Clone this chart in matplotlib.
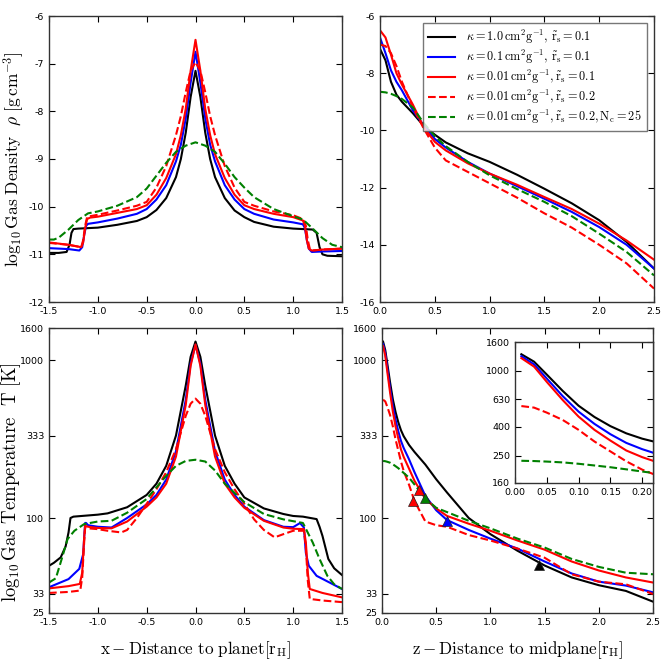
import numpy as np
import matplotlib
matplotlib.use("Agg")
import matplotlib.pyplot as plt
from matplotlib.ticker import FixedLocator, NullLocator

plt.rcParams.update({
    "font.family": "DejaVu Sans", "font.size": 6.5,
    "mathtext.fontset": "cm",
    "axes.unicode_minus": False,
    "xtick.direction": "in", "ytick.direction": "in",
    "xtick.top": True, "ytick.right": True,
    "xtick.major.size": 4, "ytick.major.size": 4,
    "xtick.labelsize": 6.8, "ytick.labelsize": 6.8,
    "axes.linewidth": 1.0,
})

# ---- top-left: log10 density vs x ----
x_rho_k = [-1.5, -1.4, -1.32, -1.29, -1.27, -1.25, -1.2, -1.0, -0.8, -0.6, -0.5, -0.4, -0.3, -0.2, -0.15,
           -0.1, -0.05, 0.0, 0.05, 0.1, 0.15, 0.2, 0.3, 0.4, 0.5, 0.6, 0.8, 1.0, 1.2, 1.24, 1.27, 1.3,
           1.35, 1.5]
rho_k = [-10.97, -10.97, -10.95, -10.8, -10.55, -10.47, -10.46, -10.44, -10.38, -10.3, -10.22, -10.07, -9.82,
         -9.38, -9.0, -8.45, -7.7, -7.15, -7.7, -8.45, -9.0, -9.38, -9.82, -10.08, -10.22, -10.32, -10.42,
         -10.46, -10.48, -10.55, -10.85, -11.0, -11.03, -11.04]
x_rho_b = [-1.5, -1.3, -1.19, -1.16, -1.14, -1.12, -1.1, -1.0, -0.8, -0.6, -0.5, -0.4, -0.3, -0.2, -0.15,
           -0.1, -0.05, 0.0, 0.05, 0.1, 0.15, 0.2, 0.3, 0.4, 0.5, 0.6, 0.8, 1.0, 1.1, 1.12, 1.14, 1.16,
           1.19, 1.3, 1.5]
rho_b = [-10.87, -10.89, -10.92, -10.85, -10.6, -10.4, -10.36, -10.33, -10.25, -10.15, -10.05, -9.85, -9.55,
         -9.05, -8.7, -8.15, -7.4, -6.75, -7.4, -8.15, -8.7, -9.05, -9.55, -9.85, -10.05, -10.15, -10.27,
         -10.33, -10.37, -10.45, -10.7, -10.88, -10.95, -10.94, -10.93]
x_rho_r = [-1.5, -1.3, -1.17, -1.15, -1.13, -1.11, -1.08, -1.0, -0.8, -0.6, -0.5, -0.4, -0.3, -0.2, -0.15,
           -0.1, -0.05, 0.0, 0.05, 0.1, 0.15, 0.2, 0.3, 0.4, 0.5, 0.6, 0.8, 1.0, 1.1, 1.12, 1.14, 1.16,
           1.19, 1.3, 1.5]
rho_r = [-10.75, -10.8, -10.85, -10.75, -10.45, -10.26, -10.23, -10.21, -10.13, -10.05, -9.97, -9.75, -9.4,
         -8.9, -8.5, -7.95, -7.15, -6.5, -7.15, -7.95, -8.5, -8.9, -9.4, -9.75, -9.97, -10.05, -10.15,
         -10.22, -10.29, -10.4, -10.7, -10.88, -10.92, -10.9, -10.88]
x_rho_rd = [-1.5, -1.3, -1.17, -1.15, -1.13, -1.11, -1.08, -1.0, -0.8, -0.6, -0.5, -0.4, -0.3, -0.2, -0.15,
            -0.1, -0.05, 0.0, 0.05, 0.1, 0.15, 0.2, 0.3, 0.4, 0.5, 0.6, 0.8, 1.0, 1.1, 1.13, 1.15, 1.17,
            1.2, 1.3, 1.5]
rho_rd = [-10.76, -10.8, -10.85, -10.7, -10.4, -10.22, -10.2, -10.17, -10.08, -9.98, -9.9, -9.6, -9.15,
          -8.5, -8.1, -7.6, -7.15, -6.97, -7.15, -7.6, -8.1, -8.5, -9.15, -9.6, -9.9, -9.98, -10.1,
          -10.18, -10.26, -10.4, -10.7, -10.88, -10.92, -10.9, -10.88]
x_rho_g = [-1.5, -1.45, -1.4, -1.3, -1.2, -1.1, -1.0, -0.8, -0.6, -0.5, -0.4, -0.3, -0.2, -0.1, 0.0,
           0.1, 0.2, 0.3, 0.4, 0.5, 0.6, 0.8, 1.0, 1.1, 1.2, 1.3, 1.4, 1.5]
rho_g = [-10.69, -10.69, -10.65, -10.48, -10.28, -10.14, -10.1, -9.98, -9.8, -9.62, -9.35, -9.08, -8.85,
         -8.72, -8.65, -8.72, -8.85, -9.1, -9.38, -9.6, -9.8, -10.05, -10.2, -10.27, -10.46, -10.66, -10.8,
         -10.85]

# ---- top-right: log10 density vs z ----
z_rho = [0.0, 0.05, 0.1, 0.15, 0.2, 0.3, 0.4, 0.5, 0.6, 0.8, 1.0, 1.25, 1.5, 1.75, 2.0, 2.25, 2.5]
rhoz_k = [-7.15, -7.55, -8.3, -8.75, -9.0, -9.4, -9.85, -10.15, -10.42, -10.8, -11.1, -11.55, -12.04,
          -12.55, -13.14, -13.9, -14.83]
rhoz_b = [-6.75, -7.3, -7.9, -8.3, -8.6, -9.3, -9.83, -10.3, -10.6, -11.1, -11.51, -11.95, -12.39, -12.85,
          -13.38, -14.0, -14.83]
rhoz_r = [-6.5, -6.75, -7.35, -8.0, -8.4, -9.1, -9.9, -10.4, -10.7, -11.15, -11.51, -11.9, -12.33, -12.75,
          -13.26, -13.85, -14.52]
rhoz_rd = [-7.0, -7.05, -7.3, -7.75, -8.3, -9.2, -9.94, -10.6, -11.05, -11.45, -11.85, -12.35, -12.9,
           -13.4, -14.0, -14.65, -15.53]
rhoz_g = [-8.65, -8.67, -8.72, -8.8, -8.9, -9.2, -9.75, -10.2, -10.55, -11.1, -11.57, -12.05, -12.5,
          -13.0, -13.61, -14.25, -15.07]

# ---- bottom-left: temperature vs x ----
x_T_k = [-1.5, -1.45, -1.38, -1.33, -1.3, -1.28, -1.25, -1.0, -0.9, -0.7, -0.5, -0.4, -0.3, -0.2, -0.1,
         -0.05, 0.0, 0.05, 0.1, 0.2, 0.3, 0.4, 0.5, 0.7, 0.9, 1.0, 1.1, 1.24, 1.27, 1.3, 1.36, 1.42, 1.5]
T_k = [49.8, 52, 56.3, 66, 81, 100, 102, 105, 107, 117, 140, 165, 214, 333, 690, 1050, 1313, 1050, 690,
       333, 214, 165, 135, 115, 106, 103, 102, 98.4, 88, 77, 55, 48, 43.5]
x_T_b = [-1.5, -1.3, -1.19, -1.15, -1.14, -1.13, -1.12, -1.1, -1.0, -0.86, -0.7, -0.5, -0.4, -0.3, -0.2,
         -0.1, -0.05, 0.0, 0.05, 0.1, 0.2, 0.3, 0.4, 0.5, 0.7, 0.9, 1.0, 1.07, 1.11, 1.13, 1.16, 1.24, 1.5]
T_b = [36.4, 41, 47.6, 59, 75, 93, 93, 90, 88, 87, 100, 122, 140, 175, 265, 560, 950, 1250, 950, 560, 265,
       175, 140, 118, 97, 88, 87.5, 92.9, 87, 60, 49.8, 43, 35.5]
x_T_r = [-1.5, -1.3, -1.185, -1.16, -1.14, -1.13, -1.1, -1.0, -0.86, -0.7, -0.5, -0.4, -0.3, -0.2, -0.1,
         -0.05, 0.0, 0.05, 0.1, 0.2, 0.3, 0.4, 0.5, 0.7, 0.9, 1.0, 1.11, 1.13, 1.15, 1.17, 1.3, 1.5]
T_r = [35.8, 37, 38.2, 45, 75, 89.3, 88, 86.5, 86, 95, 118, 135, 165, 245, 520, 920, 1260, 920, 520, 245,
       165, 135, 116, 96, 87, 85.5, 85, 70, 45, 35.5, 33.5, 31.4]
x_T_rd = [-1.5, -1.3, -1.18, -1.16, -1.14, -1.13, -1.1, -1.0, -0.9, -0.76, -0.7, -0.6, -0.5, -0.4, -0.3,
          -0.2, -0.1, -0.05, 0.0, 0.05, 0.1, 0.2, 0.3, 0.4, 0.5, 0.6, 0.7, 0.81, 0.9, 1.0, 1.11, 1.13,
          1.15, 1.17, 1.3, 1.5]
T_rd = [33.5, 34, 34.7, 42, 70, 87.2, 86, 85, 83, 81, 84, 100, 123, 152, 195, 273, 444, 530, 571, 530, 444,
        273, 195, 152, 123, 98, 84, 75.4, 79, 83, 83, 65, 40, 30.7, 30, 29.3]
x_T_g = [-1.5, -1.43, -1.37, -1.31, -1.24, -1.14, -1.0, -0.86, -0.7, -0.5, -0.3, -0.2, -0.1, 0.0, 0.1,
         0.2, 0.3, 0.5, 0.7, 0.9, 1.1, 1.2, 1.27, 1.35, 1.42, 1.5]
T_g = [39, 41.5, 55, 73.5, 83, 91.5, 95, 96, 108, 132, 185, 214, 230, 234, 228, 200, 165, 126, 106, 98, 93,
       70, 55, 43, 38, 35.5]

# ---- bottom-right: temperature vs z (also the inset) ----
z_T = [0.01, 0.03, 0.05, 0.075, 0.1, 0.125, 0.15, 0.175, 0.2, 0.25, 0.3, 0.4, 0.5, 0.6, 0.8, 1.0, 1.25,
       1.5, 1.75, 2.0, 2.25, 2.5]
Tz_k = [1310, 1160, 940, 720, 565, 470, 405, 360, 330, 290, 262, 218, 176, 145, 100, 79, 62, 50, 42,
        37.5, 34.5, 29.5]
Tz_b = [1270, 1110, 881, 661, 513, 420, 355, 308, 278, 235, 195, 138, 112, 97, 84, 74, 64, 53, 44.5, 39.5,
        37.3, 33.8]
Tz_r = [1230, 1070, 834, 620, 473, 381, 320, 272, 244, 205, 172, 132, 115, 103, 92, 83, 72, 63, 53, 46.5,
        42, 39]
Tz_rd = [562, 548, 505, 448, 381, 315, 268, 228, 199, 162, 128, 95, 90, 88, 78, 72, 64, 56, 44, 39.5, 38,
         33]
Tz_g = [230, 229, 227, 224, 219, 213, 207, 200, 193, 180, 163, 133, 116, 109, 96, 86, 74, 65, 55, 49, 45,
        44]
z_mark = [0.29, 0.337, 0.40, 0.60, 1.45]
T_mark = [128, 151, 133, 96, 50.3]
c_mark = ["r", "r", "g", "b", "k"]

labels = [r"$\kappa=1.0\,\mathrm{cm^2g^{-1}},\,\tilde{\mathrm{r}}_\mathrm{s}=0.1$",
          r"$\kappa=0.1\,\mathrm{cm^2g^{-1}},\,\tilde{\mathrm{r}}_\mathrm{s}=0.1$",
          r"$\kappa=0.01\,\mathrm{cm^2g^{-1}},\tilde{\mathrm{r}}_\mathrm{s}=0.1$",
          r"$\kappa=0.01\,\mathrm{cm^2g^{-1}},\tilde{\mathrm{r}}_\mathrm{s}=0.2$",
          r"$\kappa=0.01\,\mathrm{cm^2g^{-1}},\tilde{\mathrm{r}}_\mathrm{s}=0.2,\mathrm{N_c}=25$"]
styles = [("k", "-"), ("b", "-"), ("r", "-"), ("r", "--"), ("g", "--")]
LW = 1.5

fig = plt.figure(figsize=(6.64, 6.64), dpi=100)
W = H = 664.0

def add_ax(l, t, r, b):
    return fig.add_axes([l / W, 1 - b / H, (r - l) / W, (b - t) / H])

ax1 = add_ax(49, 16, 342, 302)
ax2 = add_ax(380, 16, 654, 302)
ax3 = add_ax(49, 328, 342, 613)
ax4 = add_ax(382, 328, 653, 613)
axi = add_ax(515, 342, 653, 483)

for (xs, ys), (c, ls) in zip([(x_rho_k, rho_k), (x_rho_b, rho_b), (x_rho_r, rho_r),
                              (x_rho_rd, rho_rd), (x_rho_g, rho_g)], styles):
    ax1.plot(xs, ys, color=c, ls=ls, lw=LW)
ax1.set_xlim(-1.5, 1.5); ax1.set_ylim(-12, -6)
ax1.set_xticks(np.arange(-1.5, 1.51, 0.5))
ax1.set_ylabel(r"$\log_{10}\mathrm{Gas\ Density}\ \ \rho\ [\mathrm{g\,cm^{-3}}]$", fontsize=12.5)
ax1.yaxis.set_label_coords(-0.075, 0.5)

for ys, (c, ls), lb in zip([rhoz_k, rhoz_b, rhoz_r, rhoz_rd, rhoz_g], styles, labels):
    ax2.plot(z_rho, ys, color=c, ls=ls, lw=LW, label=lb)
ax2.set_xlim(0, 2.5); ax2.set_ylim(-16, -6)
ax2.set_xticks(np.arange(0, 2.51, 0.5))
leg = ax2.legend(loc="upper right", fontsize=8.8, handlelength=2.2, borderaxespad=0.6,
                 labelspacing=0.15, handletextpad=0.9, fancybox=False)
leg.get_frame().set_edgecolor("#555555")

for (xs, ys), (c, ls) in zip([(x_T_k, T_k), (x_T_b, T_b), (x_T_r, T_r), (x_T_rd, T_rd), (x_T_g, T_g)],
                             styles):
    ax3.plot(xs, ys, color=c, ls=ls, lw=LW)
ax3.set_xlim(-1.5, 1.5)
ax3.set_xticks(np.arange(-1.5, 1.51, 0.5))
ax3.set_ylabel(r"$\log_{10}\mathrm{Gas\ Temperature}\ \ \mathrm{T}\ [\mathrm{K}]$", fontsize=13.5)
ax3.yaxis.set_label_coords(-0.09, 0.46)
ax3.set_xlabel(r"$\mathrm{x-Distance\ to\ planet[r_H]}$", fontsize=12.3, labelpad=9)

for ys, (c, ls) in zip([Tz_k, Tz_b, Tz_r, Tz_rd, Tz_g], styles):
    ax4.plot(z_T, ys, color=c, ls=ls, lw=LW)
    axi.plot(z_T, ys, color=c, ls=ls, lw=LW)
for zm, tm, cm in zip(z_mark, T_mark, c_mark):
    ax4.plot(zm, tm, marker="^", color=cm, ms=7, mec="#222222", mew=0.5)
ax4.set_xlim(0, 2.5)
ax4.set_xticks(np.arange(0, 2.51, 0.5))
ax4.set_xlabel(r"$\mathrm{z-Distance\ to\ midplane[r_H]}$", fontsize=12.3, labelpad=9)

T_ticks = [25, 33, 100, 333, 1000, 1600]
for ax in (ax3, ax4):
    ax.set_yscale("log")
    ax.set_ylim(25, 1600)
    ax.yaxis.set_major_locator(FixedLocator(T_ticks))
    ax.yaxis.set_minor_locator(NullLocator())
    ax.set_yticklabels([str(t) for t in T_ticks])

inset_ticks = [160, 250, 400, 630, 1000, 1600]
axi.set_yscale("log")
axi.set_ylim(160, 1600)
axi.set_xlim(0, 0.217)
axi.yaxis.set_major_locator(FixedLocator(inset_ticks))
axi.yaxis.set_minor_locator(NullLocator())
axi.set_yticklabels([str(t) for t in inset_ticks])
axi.set_xticks([0.0, 0.05, 0.1, 0.15, 0.2])
axi.set_xticklabels(["0.00", "0.05", "0.10", "0.15", "0.20"])

for ax in (ax1, ax2, ax3, ax4, axi):
    for s in ax.spines.values():
        s.set_color("#333333")

fig.savefig("out.png", dpi=100)
